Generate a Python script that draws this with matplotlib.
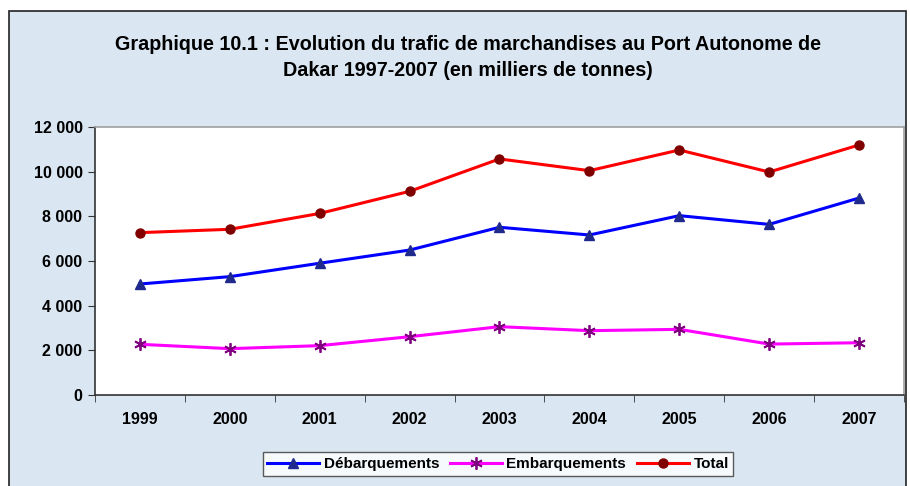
import matplotlib.pyplot as plt
from matplotlib.patches import Rectangle
from matplotlib.ticker import FuncFormatter, FixedLocator

plt.rcParams['font.family'] = ['Liberation Sans', 'DejaVu Sans']

# data (milliers de tonnes)
years = ['1999', '2000', '2001', '2002', '2003', '2004', '2005', '2006', '2007']
debarquements = [4970, 5300, 5900, 6490, 7510, 7165, 8030, 7640, 8820]
embarquements = [2270, 2075, 2210, 2610, 3060, 2880, 2940, 2280, 2340]
total = [7270, 7420, 8130, 9120, 10570, 10045, 10970, 9985, 11195]

W, H = 910, 486
fig = plt.figure(figsize=(W / 100, H / 100), dpi=100)
fig.patch.set_facecolor('white')

# light-blue chart area with a dark frame (cropped at the bottom)
fig.patches.append(Rectangle((9 / W, -0.05), (906 - 9) / W, 1.05 - 11 / H,
                             transform=fig.transFigure, facecolor='#DAE7F3',
                             edgecolor='#222222', lw=1.2, zorder=-5))

ax = fig.add_axes([95 / W, (H - 395) / H, (904 - 95) / W, (395 - 127) / H])
ax.set_facecolor('white')

x = range(len(years))
ax.plot(x, debarquements, color='#0000FF', lw=2.2, marker='^', ms=7,
        mfc='#1F2A8C', mec='#1F2A8C', label='Débarquements', zorder=3)
ax.plot(x, embarquements, color='#FF00FF', lw=2.2, marker=(6, 2, 0), ms=9,
        mfc='#800080', mec='#800080', mew=1.3, label='Embarquements', zorder=3)
ax.plot(x, total, color='#FF0000', lw=2.2, marker='o', ms=6.5,
        mfc='#800000', mec='#800000', label='Total', zorder=3)

ax.set_xlim(-0.5, len(years) - 0.5)
ax.set_ylim(0, 12000)
ax.set_yticks(range(0, 12001, 2000))
ax.yaxis.set_major_formatter(FuncFormatter(lambda v, p: f'{int(v):,}'.replace(',', ' ')))
ax.set_xticks(list(x))
ax.set_xticklabels(years)
ax.xaxis.set_minor_locator(FixedLocator([i - 0.5 for i in range(len(years) + 1)]))
ax.tick_params(axis='x', which='major', length=0, pad=12)
ax.tick_params(axis='x', which='minor', length=5, direction='out', color='#333333')
ax.tick_params(axis='y', length=5, direction='out', color='#333333', pad=4)
for lab in ax.get_xticklabels() + ax.get_yticklabels():
    lab.set_fontweight('bold')
    lab.set_fontsize(11.5)

for s in ['left', 'bottom']:
    ax.spines[s].set_color('#333333')
    ax.spines[s].set_linewidth(1.2)
for s in ['top', 'right']:
    ax.spines[s].set_color('#A0A0A0')
    ax.spines[s].set_linewidth(1.2)

fig.text(468 / W, 1 - 45 / H,
         'Graphique 10.1 : Evolution du trafic de marchandises au Port Autonome de',
         ha='center', va='center', fontsize=14.2, fontweight='bold')
fig.text(468 / W, 1 - 70 / H, 'Dakar 1997-2007 (en milliers de tonnes)',
         ha='center', va='center', fontsize=14.2, fontweight='bold')

leg = fig.legend(loc='center', bbox_to_anchor=(498 / W, 1 - 464 / H), ncol=3,
                 frameon=True, fancybox=False, edgecolor='#333333',
                 prop={'weight': 'bold', 'size': 11}, handlelength=3.4,
                 columnspacing=0.7, handletextpad=0.3, borderpad=0.3)
leg.get_frame().set_linewidth(1.0)

fig.savefig('out.png', dpi=100)
